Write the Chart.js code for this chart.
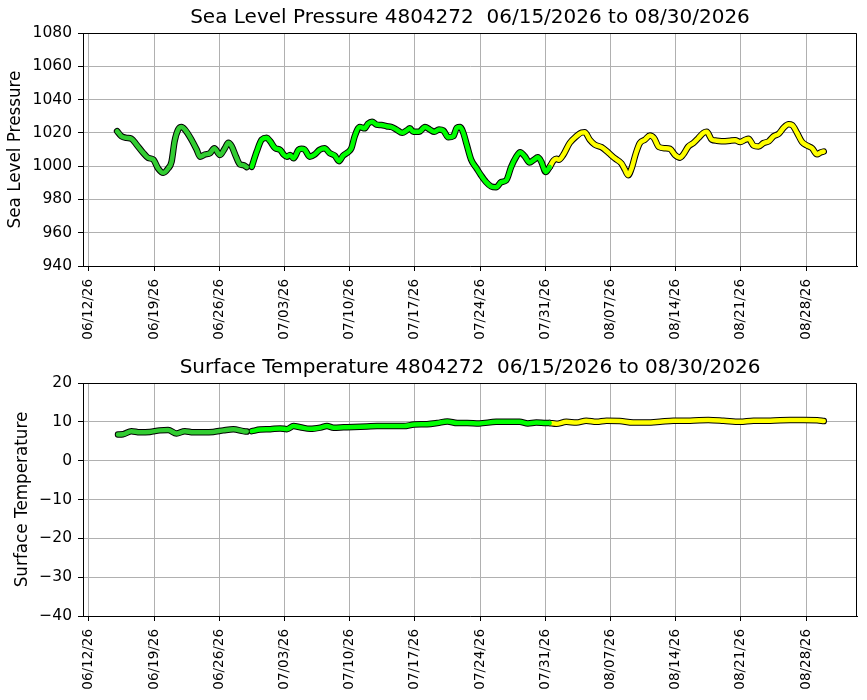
<!DOCTYPE html>
<html><head><meta charset="utf-8">
<script src="https://cdn.jsdelivr.net/npm/chart.js@4"></script>
<style>
body{margin:0;background:#fff;width:867px;height:700px;overflow:hidden}
.box{position:absolute;left:0;width:867px;height:350px}
</style></head><body>
<div class="box" style="top:0"><canvas id="c1" width="867" height="350"></canvas></div>
<div class="box" style="top:350px"><canvas id="c2" width="867" height="350"></canvas></div>
<script>
// x values are days since 06/12/2026
const tickDays = [0,7,14,21,28,35,42,49,56,63,70,77];
const tickLabels = ['06/12/26','06/19/26','06/26/26','07/03/26','07/10/26','07/17/26','07/24/26','07/31/26','08/07/26','08/14/26','08/21/26','08/28/26'];

const slpDaysA = [3.02,3.48,4.02,4.56,5.1,5.82,6.35,6.9,7.43,7.97,8.5,8.87,9.2,9.58,9.94,10.3,11.0,11.56,11.92,12.46,13.0,13.46,14.07,14.6,14.97,15.32,15.79,16.22,16.58,16.94];
const slpA = [1021,1018,1017,1016.5,1013,1008,1005,1004,998.6,996,998.6,1002.7,1015,1022,1023.5,1022,1016,1010,1005.7,1007,1007.8,1010.8,1006.7,1010.8,1014,1012,1005.7,1001,1000.6,999.4];

const slpDaysB = [17.48,18.02,18.56,19.1,19.45,19.99,20.53,20.9,21.25,21.6,21.97,22.5,22.8,23.15,23.7,24.23,24.77,25.3,25.85,26.4,26.85,27.28,27.82,28.18,28.54,29.08,29.6,29.97,30.4,30.87,31.4,31.95,32.49,33.02,33.64,34.1,34.46,34.82,35.43,36.08,36.6,37.08,37.58,38.05,38.59,39.13,39.49,39.85,40.2,40.56,41.03,41.64,42.1,42.65,43.18,43.72,44.26,44.8,45.34,45.88,46.3,46.77,47.31,47.74,48.2,48.57,49.04,49.47];
const slpB = [999.6,1008.8,1016,1017,1015,1010.8,1009.8,1007,1005.7,1006.7,1004.7,1009.8,1010.4,1010,1005.7,1007,1009.8,1010.8,1007.8,1006.3,1003,1006.3,1008.4,1010.8,1018,1023.5,1022.7,1025.5,1026.7,1025,1024.7,1024,1023.5,1022,1020,1021.4,1022.7,1020.6,1020.6,1023.5,1022,1020.6,1022,1021.4,1017.3,1018,1023,1023.5,1020,1013,1004,998.5,994.5,990.4,987.8,987.3,990.4,991.4,999.6,1005.7,1008.4,1006.1,1002.2,1003.7,1005.3,1002.7,996.5,999.5];

const slpDaysC = [49.47,49.9,50.2,50.45,50.9,51.62,52.34,52.9,53.23,53.77,54.31,55.03,55.75,56.46,57.18,57.54,57.9,58.26,58.73,59.16,59.7,60.24,60.67,61.2,61.85,62.39,62.93,63.47,63.83,64.36,64.9,65.44,65.98,66.34,66.88,67.41,68.13,68.85,69.39,69.92,70.47,70.82,71.36,71.9,72.44,72.98,73.52,74.06,74.6,75.13,75.49,76.03,76.57,77.1,77.64,78.18,78.54,78.9];
const slpC = [999.5,1003.5,1004.5,1003.8,1006.5,1013.9,1018,1020.2,1020.4,1015.9,1012.9,1011.4,1008.2,1004.7,1001.6,998,994.5,998.6,1007.8,1013.9,1015.9,1018.4,1016.9,1011.5,1010.8,1010.4,1006.7,1005.1,1007.1,1011.8,1013.9,1016.9,1020,1020.6,1015.9,1015.3,1014.9,1015.3,1015.5,1014.5,1015.9,1016.5,1012.4,1011.8,1013.9,1014.9,1018,1019.4,1023.1,1025.1,1024.7,1020,1014.5,1012.4,1010.8,1007.1,1008.2,1008.8];

const tempDaysA = [3.12,3.66,4.56,5.46,6.53,7.6,8.5,9.4,10.3,11.2,12.28,13.35,14.43,15.5,16.58,16.94];
const tempA = [6.75,6.8,7.6,7.3,7.4,7.8,7.9,7.0,7.6,7.3,7.3,7.4,7.8,8.1,7.6,7.5];
const tempDaysB = [17.48,18.38,19.46,20.53,21.25,21.97,22.69,23.76,24.84,25.56,26.27,27.35,28.43,29.86,30.94,32.38,33.8,34.9,36.3,37.4,38.48,39.56,40.6,41.9,43.72,45.16,46.24,47.13,48.03,49.1,49.47];
const tempB = [7.6,8.0,8.1,8.3,8.1,8.9,8.6,8.2,8.5,8.9,8.5,8.6,8.7,8.8,8.9,8.9,8.9,9.3,9.4,9.7,10.1,9.7,9.7,9.6,10.0,10.0,10.0,9.6,9.8,9.7,9.7];
const tempDaysC = [49.47,50.18,51.26,52.34,53.4,54.5,55.57,57.0,58.44,59.87,61.3,62.75,64.54,66.5,68.13,69.9,71.36,73.16,75.3,76.75,78.2,78.9];
const tempC = [9.7,9.5,10.0,9.8,10.3,10.0,10.3,10.2,9.8,9.8,10.0,10.3,10.3,10.5,10.3,10.0,10.3,10.3,10.5,10.5,10.4,10.2];

const seriesColors = ['#32cd32','#00ff00','#ffff00'];

Chart.defaults.font.family = "'DejaVu Sans', sans-serif";
Chart.defaults.color = '#000';

// top and right spines (left and bottom come from the axis borders)
const framePlugin = {
  id: 'frame',
  afterDatasetsDraw(chart) {
    const a = chart.chartArea, c = chart.ctx;
    const L = Math.round(a.left) + 0.5, R = Math.round(a.right) - 0.5;
    const T = Math.round(a.top) + 0.5, B = Math.round(a.bottom) + 0.5;
    c.save();
    c.strokeStyle = '#000';
    c.lineWidth = 1;
    c.beginPath();
    c.moveTo(L, T); c.lineTo(R, T); c.lineTo(R, B);
    c.stroke();
    c.restore();
  }
};

function build(id, title, yLabel, yMin, yMax, yStep, yTitlePad, dayArrs, valArrs) {
  const datasets = [];
  dayArrs.forEach((days, k) => {
    const pts = days.map((d, i) => ({x: d, y: valArrs[k][i]}));
    datasets.push({data: pts, borderColor: seriesColors[k], borderWidth: 4.5, pointRadius: 0,
      cubicInterpolationMode: 'monotone', order: 0, borderJoinStyle: 'round', borderCapStyle: 'round'});
    datasets.push({data: pts, borderColor: '#000', borderWidth: 6.5, pointRadius: 0,
      cubicInterpolationMode: 'monotone', order: 1, borderJoinStyle: 'round', borderCapStyle: 'round'});
  });
  const gridCfg = {color: '#b0b0b0', lineWidth: 1, tickLength: 5, tickColor: '#000'};
  return new Chart(document.getElementById(id), {
    type: 'line',
    data: {datasets},
    plugins: [framePlugin],
    options: {
      responsive: false, animation: false,
      layout: {padding: {left: 0, right: 10, top: 0, bottom: 0}},
      plugins: {
        legend: {display: false}, tooltip: {enabled: false},
        title: {display: true, text: title, fullSize: false, font: {size: 20, weight: 'normal'},
          color: '#000', padding: {top: 6, bottom: 3}}
      },
      scales: {
        x: {
          type: 'linear', min: -0.64, max: 82.47,
          afterBuildTicks: ax => { ax.ticks = tickDays.map(v => ({value: v})); },
          afterFit: ax => { ax.height = 84; },
          ticks: {autoSkip: false, maxRotation: 90, minRotation: 90, padding: 8, font: {size: 13.5}, color: '#000',
            callback: v => tickLabels[tickDays.indexOf(v)]},
          grid: gridCfg,
          border: {display: true, color: '#000', width: 1}
        },
        y: {
          min: yMin, max: yMax,
          afterFit: ax => { ax.width = 83; },
          ticks: {stepSize: yStep, padding: 6, font: {size: 15.5}, color: '#000',
            callback: v => String(v).replace('-', '\u2212')},
          title: {display: true, text: yLabel, font: {size: 16.8}, color: '#000', padding: {top: yTitlePad, bottom: 0}},
          grid: gridCfg,
          border: {display: true, color: '#000', width: 1}
        }
      }
    }
  });
}

build('c1', 'Sea Level Pressure 4804272  06/15/2026 to 08/30/2026', 'Sea Level Pressure', 940, 1080, 20, 6,
  [slpDaysA, slpDaysB, slpDaysC], [slpA, slpB, slpC]);
build('c2', 'Surface Temperature 4804272  06/15/2026 to 08/30/2026', 'Surface Temperature', -40, 20, 10, 13,
  [tempDaysA, tempDaysB, tempDaysC], [tempA, tempB, tempC]);
</script>
</body></html>
